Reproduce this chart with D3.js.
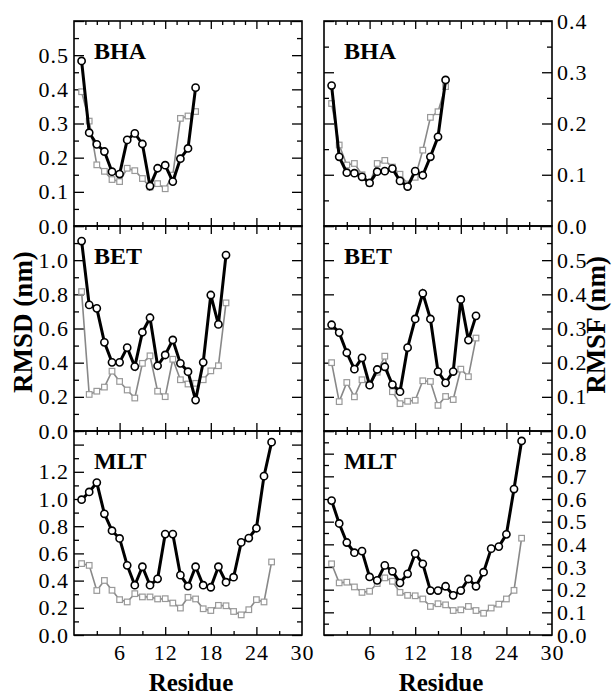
<!DOCTYPE html>
<html>
<head>
<meta charset="utf-8">
<title>RMSD / RMSF per residue</title>
<script src="https://cdn.jsdelivr.net/npm/d3@7"></script>
<style>
  body { margin: 0; background: #fff; }
  svg { font-family: "Liberation Serif", "DejaVu Serif", serif; }
  .tick line { stroke: #000; stroke-width: 1.3; }
  .frame { fill: none; stroke: #000; stroke-width: 1.6; }
</style>
</head>
<body>
<script>
// residue-wise values (black = circles, gray = squares)
var bhaRmsdBlack = [0.483, 0.273, 0.239, 0.218, 0.159, 0.152, 0.252, 0.271, 0.240, 0.117, 0.169, 0.178, 0.130, 0.197, 0.227, 0.405];
var bhaRmsdGray  = [0.393, 0.307, 0.179, 0.160, 0.136, 0.130, 0.169, 0.162, 0.139, 0.114, 0.124, 0.109, 0.149, 0.315, 0.322, 0.335];
var bhaRmsfBlack = [0.274, 0.135, 0.104, 0.103, 0.096, 0.084, 0.106, 0.107, 0.112, 0.088, 0.077, 0.107, 0.099, 0.135, 0.174, 0.285];
var bhaRmsfGray  = [0.239, 0.158, 0.119, 0.122, 0.100, 0.083, 0.122, 0.128, 0.115, 0.101, 0.082, 0.095, 0.148, 0.212, 0.223, 0.272];

var betRmsdBlack = [1.112, 0.738, 0.718, 0.519, 0.402, 0.402, 0.488, 0.377, 0.578, 0.663, 0.382, 0.445, 0.533, 0.396, 0.347, 0.181, 0.402, 0.796, 0.624, 1.030];
var betRmsdGray  = [0.816, 0.214, 0.233, 0.257, 0.350, 0.290, 0.240, 0.193, 0.396, 0.440, 0.233, 0.201, 0.420, 0.300, 0.275, 0.279, 0.300, 0.352, 0.382, 0.750];
var betRmsfBlack = [0.311, 0.288, 0.229, 0.181, 0.214, 0.134, 0.180, 0.188, 0.136, 0.115, 0.244, 0.328, 0.403, 0.328, 0.174, 0.141, 0.174, 0.385, 0.266, 0.337];
var betRmsfGray  = [0.200, 0.086, 0.142, 0.100, 0.150, 0.136, 0.172, 0.219, 0.115, 0.080, 0.087, 0.090, 0.147, 0.145, 0.075, 0.101, 0.092, 0.181, 0.159, 0.272];

var mltRmsdBlack = [0.995, 1.052, 1.121, 0.891, 0.767, 0.710, 0.512, 0.366, 0.502, 0.366, 0.413, 0.742, 0.742, 0.440, 0.359, 0.502, 0.366, 0.351, 0.502, 0.388, 0.425, 0.681, 0.713, 0.785, 1.168, 1.418];
var mltRmsdGray  = [0.525, 0.512, 0.327, 0.401, 0.329, 0.260, 0.243, 0.304, 0.280, 0.280, 0.265, 0.267, 0.235, 0.198, 0.277, 0.265, 0.193, 0.180, 0.218, 0.215, 0.173, 0.148, 0.186, 0.260, 0.243, 0.537];
var mltRmsfBlack = [0.593, 0.492, 0.408, 0.363, 0.370, 0.256, 0.241, 0.307, 0.281, 0.230, 0.270, 0.359, 0.314, 0.196, 0.196, 0.215, 0.175, 0.196, 0.247, 0.215, 0.277, 0.381, 0.390, 0.444, 0.644, 0.856];
var mltRmsfGray  = [0.314, 0.230, 0.233, 0.212, 0.188, 0.193, 0.227, 0.252, 0.237, 0.188, 0.175, 0.173, 0.159, 0.126, 0.138, 0.133, 0.108, 0.111, 0.126, 0.108, 0.096, 0.119, 0.136, 0.159, 0.197, 0.427];

var xTickLabels = [6, 12, 18, 24, 30];

var width = 613, height = 696;
var cols = [[74, 302], [324, 552]];
var rows = [[21, 226], [226, 431], [431, 635]];
var serif = "'Liberation Serif', 'DejaVu Serif', serif";

var svg = d3.select("body").append("svg")
  .attr("width", width)
  .attr("height", height);

var panels = [
  { row: 0, col: 0, name: "BHA", ymax: 0.6, major: 0.1, minor: 0.05, labels: [0, 0.1, 0.2, 0.3, 0.4, 0.5], black: bhaRmsdBlack, gray: bhaRmsdGray },
  { row: 0, col: 1, name: "BHA", ymax: 0.4, major: 0.1, minor: 0.05, labels: [0, 0.1, 0.2, 0.3, 0.4], black: bhaRmsfBlack, gray: bhaRmsfGray },
  { row: 1, col: 0, name: "BET", ymax: 1.2, major: 0.2, minor: 0.1, labels: [0, 0.2, 0.4, 0.6, 0.8, 1.0], black: betRmsdBlack, gray: betRmsdGray },
  { row: 1, col: 1, name: "BET", ymax: 0.6, major: 0.1, minor: 0.05, labels: [0, 0.1, 0.2, 0.3, 0.4, 0.5], black: betRmsfBlack, gray: betRmsfGray },
  { row: 2, col: 0, name: "MLT", ymax: 1.5, major: 0.2, minor: 0.1, labels: [0, 0.2, 0.4, 0.6, 0.8, 1.0, 1.2], black: mltRmsdBlack, gray: mltRmsdGray },
  { row: 2, col: 1, name: "MLT", ymax: 0.9, major: 0.1, minor: 0.05, labels: [0, 0.1, 0.2, 0.3, 0.4, 0.5, 0.6, 0.7, 0.8], black: mltRmsfBlack, gray: mltRmsfGray }
];

function steps(max, step) {
  var n = Math.floor(max / step + 1e-6);
  return d3.range(n + 1).map(function(i) { return +(i * step).toFixed(3); });
}

panels.forEach(function(p) {
  var x = d3.scaleLinear().domain([0, 30]).range(cols[p.col]);
  var y = d3.scaleLinear().domain([0, p.ymax]).range([rows[p.row][1], rows[p.row][0]]);
  var x0 = cols[p.col][0], x1 = cols[p.col][1];
  var y0 = rows[p.row][0], y1 = rows[p.row][1];

  var g = svg.append("g");
  var fmt = d3.format(".1f");

  var majorY = steps(p.ymax, p.major);
  var minorY = steps(p.ymax, p.minor).filter(function(v) {
    return majorY.indexOf(v) < 0;
  });

  // y ticks, pointing inward on both sides
  function yAxes(size, vals, withLabels) {
    var left = d3.axisLeft(y).tickValues(vals).tickSizeInner(-size).tickSizeOuter(0).tickPadding(5)
      .tickFormat(function(d) { return withLabels && p.col === 0 && p.labels.indexOf(d) >= 0 ? fmt(d) : ""; });
    var right = d3.axisRight(y).tickValues(vals).tickSizeInner(-size).tickSizeOuter(0).tickPadding(5)
      .tickFormat(function(d) { return withLabels && p.col === 1 && p.labels.indexOf(d) >= 0 ? fmt(d) : ""; });
    g.append("g").attr("transform", "translate(" + x0 + ",0)").call(left);
    g.append("g").attr("transform", "translate(" + x1 + ",0)").call(right);
  }
  yAxes(10, majorY, true);
  yAxes(5, minorY, false);

  // x ticks: bottom every 3, top every 1.5, long at multiples of 6
  var bottomMinor = [3, 9, 15, 21, 27];
  var topMinor = [1.5, 3, 4.5, 7.5, 9, 10.5, 13.5, 15, 16.5, 19.5, 21, 22.5, 25.5, 27, 28.5];
  var majorX = [6, 12, 18, 24];

  var bottomFmt = function(d) { return p.row === 2 && xTickLabels.indexOf(d) >= 0 ? d : ""; };
  g.append("g").attr("transform", "translate(0," + y1 + ")")
    .call(d3.axisBottom(x).tickValues(p.row === 2 ? majorX.concat([30]) : majorX)
      .tickSizeInner(-8).tickSizeOuter(0).tickPadding(9).tickFormat(bottomFmt));
  g.append("g").attr("transform", "translate(0," + y1 + ")")
    .call(d3.axisBottom(x).tickValues(bottomMinor).tickSizeInner(-4).tickSizeOuter(0).tickFormat(""));
  g.append("g").attr("transform", "translate(0," + y0 + ")")
    .call(d3.axisTop(x).tickValues(majorX).tickSizeInner(-8).tickSizeOuter(0).tickFormat(""));
  g.append("g").attr("transform", "translate(0," + y0 + ")")
    .call(d3.axisTop(x).tickValues(topMinor).tickSizeInner(-4).tickSizeOuter(0).tickFormat(""));

  g.selectAll(".domain").remove();
  g.selectAll(".tick text")
    .style("font-family", serif)
    .style("font-size", "22px")
    .style("letter-spacing", "1px")
    .attr("fill", "#000");
  // the 30 tick sits on the frame, hide its line
  g.selectAll(".tick").filter(function(d) { return d === 30; }).select("line").remove();

  g.append("rect").attr("class", "frame")
    .attr("x", x0).attr("y", y0).attr("width", x1 - x0).attr("height", y1 - y0);

  // gray series with squares
  var line = d3.line().x(function(d, i) { return x(i + 1); }).y(function(d) { return y(d); });
  g.append("path").datum(p.gray)
    .attr("d", line).attr("fill", "none").attr("stroke", "#888").attr("stroke-width", 1.6);
  g.selectAll(".sq").data(p.gray).enter().append("rect")
    .attr("x", function(d, i) { return x(i + 1) - 2.8; })
    .attr("y", function(d) { return y(d) - 2.8; })
    .attr("width", 5.6).attr("height", 5.6)
    .attr("fill", "#fff").attr("stroke", "#999").attr("stroke-width", 1.2);

  // black series with circles
  g.append("path").datum(p.black)
    .attr("d", line).attr("fill", "none").attr("stroke", "#000").attr("stroke-width", 3);
  g.selectAll(".ci").data(p.black).enter().append("circle")
    .attr("cx", function(d, i) { return x(i + 1); })
    .attr("cy", function(d) { return y(d); })
    .attr("r", 3.6)
    .attr("fill", "#fff").attr("stroke", "#000").attr("stroke-width", 1.6);

  g.append("text")
    .attr("x", x0 + 20).attr("y", y0 + 38)
    .attr("font-size", 24).attr("font-weight", "bold")
    .text(p.name);
});

svg.append("text")
  .attr("transform", "translate(32,322) rotate(-90)")
  .attr("text-anchor", "middle").attr("font-size", 27).attr("font-weight", "bold")
  .text("RMSD (nm)");

svg.append("text")
  .attr("transform", "translate(605,325) rotate(-90)")
  .attr("text-anchor", "middle").attr("font-size", 27).attr("font-weight", "bold")
  .text("RMSF (nm)");

svg.append("text")
  .attr("x", 191).attr("y", 691)
  .attr("text-anchor", "middle").attr("font-size", 25).attr("font-weight", "bold")
  .text("Residue");

svg.append("text")
  .attr("x", 441).attr("y", 691)
  .attr("text-anchor", "middle").attr("font-size", 25).attr("font-weight", "bold")
  .text("Residue");
</script>
</body>
</html>
